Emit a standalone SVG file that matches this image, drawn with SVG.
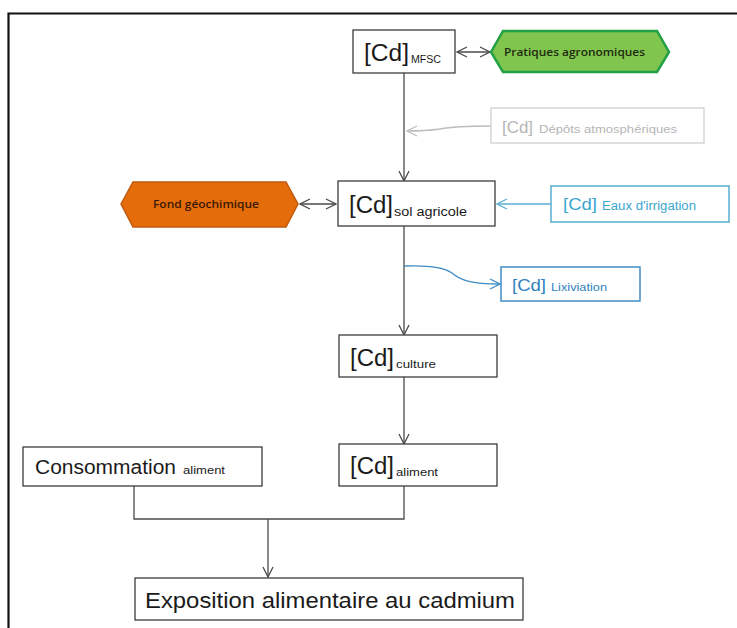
<svg xmlns="http://www.w3.org/2000/svg" width="737" height="628" viewBox="0 0 737 628">
<defs>
<style>
.box{fill:#fff;stroke:#3c3c3c;stroke-width:1.3}
.t{font-family:"Liberation Sans",Arial,sans-serif;fill:#1a1a1a}
.hx{font-family:"Open Sans","Liberation Sans",sans-serif;font-weight:600}
.big{font-size:23px}
.sub{font-size:11px}
.con{fill:none;stroke:#4a4a4a;stroke-width:1.3}
</style>
<marker id="ah" viewBox="0 0 12 12" refX="11" refY="6" markerWidth="12" markerHeight="12" markerUnits="userSpaceOnUse" orient="auto-start-reverse">
<path d="M1,1 L11,6 L1,11" fill="none" stroke="#4a4a4a" stroke-width="1.3"/>
</marker>
<marker id="ahg" viewBox="0 0 12 12" refX="11" refY="6" markerWidth="12" markerHeight="12" markerUnits="userSpaceOnUse" orient="auto">
<path d="M1,1 L11,6 L1,11" fill="none" stroke="#bdbdbd" stroke-width="1.3"/>
</marker>
<marker id="ahc" viewBox="0 0 12 12" refX="11" refY="6" markerWidth="12" markerHeight="12" markerUnits="userSpaceOnUse" orient="auto">
<path d="M1,1 L11,6 L1,11" fill="none" stroke="#5ab0d0" stroke-width="1.3"/>
</marker>
<marker id="ahb" viewBox="0 0 12 12" refX="11" refY="6" markerWidth="12" markerHeight="12" markerUnits="userSpaceOnUse" orient="auto">
<path d="M1,1 L11,6 L1,11" fill="none" stroke="#3f8bc4" stroke-width="1.3"/>
</marker>
</defs>
<rect width="737" height="628" fill="#fff"/>
<path d="M8.5,628 V13.5 H737" fill="none" stroke="#111" stroke-width="2.2"/>

<g id="connectors">
<path class="con" d="M457,52 H490" marker-start="url(#ah)" marker-end="url(#ah)"/>
<path class="con" d="M404,73 V181" marker-end="url(#ah)"/>
<path d="M491,126 C470,126 455,126 440,129 C425,131 415,131 407,131" fill="none" stroke="#bdbdbd" stroke-width="1.3" marker-end="url(#ahg)"/>
<path class="con" d="M300,204 H336" marker-start="url(#ah)" marker-end="url(#ah)"/>
<path d="M551,204 H497" fill="none" stroke="#5ab0d0" stroke-width="1.3" marker-end="url(#ahc)"/>
<path class="con" d="M404,226 V335" marker-end="url(#ah)"/>
<path d="M404,266 C430,265 445,268 452,273 C460,280 470,284 500,284" fill="none" stroke="#3f8bc4" stroke-width="1.3" marker-end="url(#ahb)"/>
<path class="con" d="M404,377 V444" marker-end="url(#ah)"/>
<path class="con" d="M134,486 V519 H404 V486"/>
<path class="con" d="M268,519 V577" marker-end="url(#ah)"/>
</g>

<g id="mfsc">
<rect class="box" x="353" y="30" width="102" height="43"/>
<text class="t" y="61"><tspan x="364" class="big" textLength="45" lengthAdjust="spacingAndGlyphs">[Cd]</tspan><tspan x="411" dy="2" class="sub" textLength="30" lengthAdjust="spacingAndGlyphs">MFSC</tspan></text>
</g>

<g id="pratiques">
<polygon points="491,52 503,31 657,31 669,52 657,72 503,72" fill="#80c54e" stroke="#22a046" stroke-width="2.5"/>
<text class="t hx" x="504" y="56" font-size="11.5" style="fill:#1f2a10" textLength="141" lengthAdjust="spacingAndGlyphs">Pratiques agronomiques</text>
</g>

<g id="depots">
<rect x="491" y="108" width="213" height="35" fill="#fff" stroke="#cfcfcf" stroke-width="1.3"/>
<text class="t" y="133" style="fill:#b5b5b5"><tspan x="502" font-size="17" textLength="31" lengthAdjust="spacingAndGlyphs">[Cd]</tspan><tspan x="539" font-size="11" textLength="138" lengthAdjust="spacingAndGlyphs">Dépôts atmosphériques</tspan></text>
</g>

<g id="sol">
<rect class="box" x="338" y="181" width="157" height="45"/>
<text class="t" y="213"><tspan x="349" class="big" textLength="44" lengthAdjust="spacingAndGlyphs">[Cd]</tspan><tspan x="394" dy="3" font-size="12" textLength="73" lengthAdjust="spacingAndGlyphs">sol agricole</tspan></text>
</g>

<g id="fond">
<polygon points="121,204 133,182 286,182 298,204 286,227 133,227" fill="#e46c0a" stroke="#c05a10" stroke-width="1.5"/>
<text class="t hx" x="153" y="208" font-size="11.5" style="fill:#3a1a05" textLength="106" lengthAdjust="spacingAndGlyphs">Fond géochimique</text>
</g>

<g id="eaux">
<rect x="551" y="186" width="178" height="36" fill="#fff" stroke="#5ab0d0" stroke-width="1.5"/>
<text class="t" y="210" style="fill:#3aa6d0"><tspan x="563" font-size="17" textLength="34" lengthAdjust="spacingAndGlyphs">[Cd]</tspan><tspan x="602" font-size="12" textLength="94" lengthAdjust="spacingAndGlyphs">Eaux d'irrigation</tspan></text>
</g>

<g id="lixiviation">
<rect x="501" y="267" width="139" height="34" fill="#fff" stroke="#3f8bc4" stroke-width="1.5"/>
<text class="t" y="291" style="fill:#2f7fbd"><tspan x="512" font-size="17" textLength="34" lengthAdjust="spacingAndGlyphs">[Cd]</tspan><tspan x="551" font-size="11" textLength="56" lengthAdjust="spacingAndGlyphs">Lixiviation</tspan></text>
</g>

<g id="culture">
<rect class="box" x="339" y="335" width="158" height="42"/>
<text class="t" y="366"><tspan x="350" class="big" textLength="44" lengthAdjust="spacingAndGlyphs">[Cd]</tspan><tspan x="396" dy="2" font-size="11.5" textLength="40" lengthAdjust="spacingAndGlyphs">culture</tspan></text>
</g>

<g id="aliment">
<rect class="box" x="339" y="444" width="158" height="42"/>
<text class="t" y="474"><tspan x="350" class="big" textLength="44" lengthAdjust="spacingAndGlyphs">[Cd]</tspan><tspan x="396" dy="2" font-size="11.5" textLength="42" lengthAdjust="spacingAndGlyphs">aliment</tspan></text>
</g>

<g id="consommation">
<rect class="box" x="23" y="447" width="239" height="39"/>
<text class="t" y="474"><tspan x="35" font-size="20" textLength="141" lengthAdjust="spacingAndGlyphs">Consommation</tspan><tspan x="183" font-size="11" textLength="42" lengthAdjust="spacingAndGlyphs">aliment</tspan></text>
</g>

<g id="exposition">
<rect class="box" x="135" y="578" width="388" height="42"/>
<text class="t" x="145" y="608" font-size="22" textLength="370" lengthAdjust="spacingAndGlyphs">Exposition alimentaire au cadmium</text>
</g>
</svg>
